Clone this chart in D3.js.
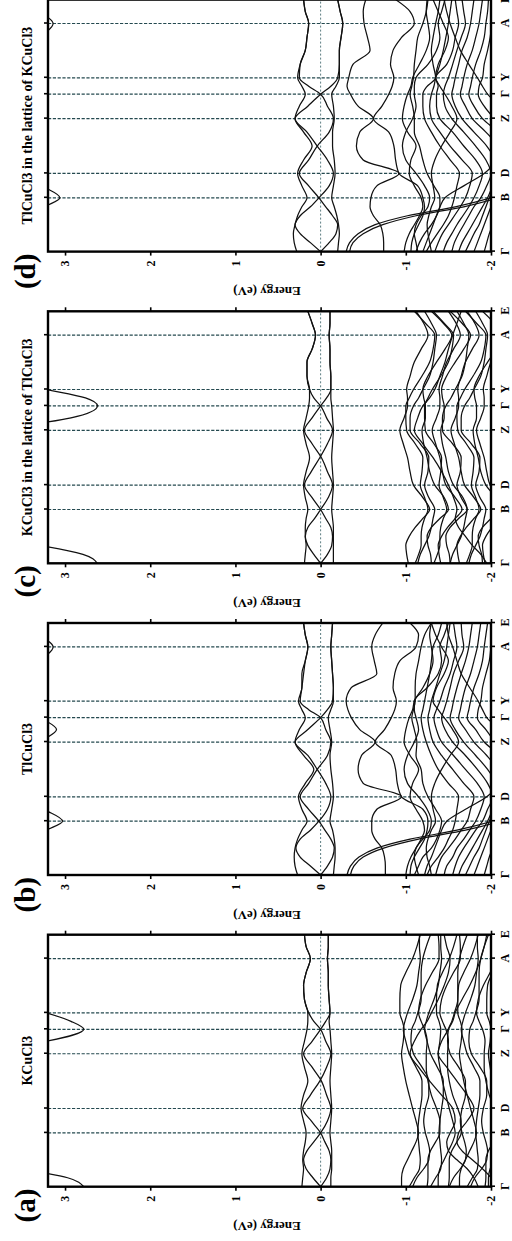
<!DOCTYPE html>
<html>
<head>
<meta charset="utf-8">
<script src="https://cdn.jsdelivr.net/npm/d3@7"></script>
<style>
  body { margin: 0; background: #fff; }
  svg { display: block; }
  text { font-family: "Liberation Serif", "Times New Roman", serif; font-weight: bold; }
</style>
</head>
<body>
<svg id="chart" width="512" height="1241"></svg>
<script>
// k-path sample positions (distance along the path) and high-symmetry points
const kGrid = [0, 9, 18, 27, 36, 45, 54, 66, 78.5, 92, 106, 120, 133.5, 146, 158, 166, 174.5, 188, 202, 215, 229, 241, 253];
const kPoints = [0, 54, 78.5, 133.5, 158, 174.5, 229, 253];
const kLabels = ["Γ", "B", "D", "Z", "Γ", "Y", "A", "E"];
const energyTicks = [3, 2, 1, 0, -1, -2];

const panelLetters = ["(a)", "(b)", "(c)", "(d)"];
const panelTitles = ["KCuCl3", "TlCuCl3", "KCuCl3 in the lattice of TlCuCl3", "TlCuCl3 in the lattice of KCuCl3"];

// ---- (a) KCuCl3 ----
const condA = [2.78,2.97,3.55,4.3,5,5,5,5,5,5,5,5,4.2,3.22,2.78,2.93,3.22,3.9,4.6,5,5,5,5];
const nearA = [
  [0.22,0.21,0.2,0.21,0.2,0.18,0.17,0.2,0.23,0.2,0.15,0.19,0.22,0.19,0.16,0.15,0.15,0.19,0.2,0.17,0.12,0.17,0.19],
  [0,0.09,0.17,0.2,0.16,0.08,0,-0.08,-0.12,-0.07,-0.01,0.1,0.2,0.1,0,-0.06,-0.11,-0.1,-0.09,-0.09,-0.08,-0.09,-0.09],
  [0,-0.07,-0.11,-0.12,-0.1,-0.05,0,0.11,0.21,0.12,0.01,-0.07,-0.12,-0.06,0,0.08,0.14,0.19,0.2,0.17,0.12,0.17,0.19],
  [-0.12,-0.12,-0.13,-0.13,-0.13,-0.12,-0.11,-0.12,-0.13,-0.12,-0.11,-0.12,-0.13,-0.12,-0.11,-0.1,-0.11,-0.1,-0.09,-0.09,-0.08,-0.09,-0.09]
];
const valenceA = [
  [-0.95,-0.95,-0.97,-1.02,-1.07,-1.12,-1.15,-1.12,-1.08,-1.04,-1,-0.97,-0.95,-0.97,-0.98,-0.96,-0.93,-0.93,-0.94,-1,-1.08,-1.13,-1.17],
  [-1.04,-1.1,-1.16,-1.17,-1.16,-1.15,-1.14,-1.15,-1.17,-1.19,-1.19,-1.12,-1.04,-1,-0.97,-0.99,-1.02,-1.08,-1.13,-1.15,-1.17,-1.16,-1.16],
  [-1.08,-1.13,-1.21,-1.27,-1.28,-1.26,-1.23,-1.21,-1.23,-1.27,-1.27,-1.19,-1.09,-1.06,-1.07,-1.11,-1.14,-1.18,-1.18,-1.18,-1.2,-1.24,-1.29],
  [-1.25,-1.26,-1.26,-1.26,-1.29,-1.35,-1.4,-1.4,-1.36,-1.3,-1.26,-1.24,-1.24,-1.25,-1.22,-1.18,-1.15,-1.17,-1.23,-1.31,-1.39,-1.39,-1.38],
  [-1.29,-1.35,-1.41,-1.42,-1.41,-1.4,-1.39,-1.4,-1.42,-1.44,-1.44,-1.37,-1.29,-1.25,-1.22,-1.24,-1.27,-1.33,-1.38,-1.4,-1.42,-1.41,-1.41],
  [-1.38,-1.38,-1.4,-1.45,-1.5,-1.55,-1.58,-1.55,-1.51,-1.47,-1.43,-1.4,-1.38,-1.4,-1.41,-1.39,-1.36,-1.36,-1.37,-1.43,-1.51,-1.56,-1.6],
  [-1.5,-1.51,-1.51,-1.51,-1.54,-1.6,-1.65,-1.65,-1.61,-1.55,-1.51,-1.49,-1.49,-1.5,-1.47,-1.43,-1.4,-1.42,-1.48,-1.56,-1.64,-1.64,-1.63],
  [-1.51,-1.56,-1.64,-1.7,-1.71,-1.69,-1.66,-1.64,-1.66,-1.7,-1.7,-1.62,-1.52,-1.49,-1.5,-1.54,-1.57,-1.61,-1.61,-1.61,-1.63,-1.67,-1.72],
  [-1.63,-1.63,-1.65,-1.7,-1.75,-1.8,-1.83,-1.8,-1.76,-1.72,-1.68,-1.65,-1.63,-1.65,-1.66,-1.64,-1.61,-1.61,-1.62,-1.68,-1.76,-1.81,-1.85],
  [-1.72,-1.78,-1.84,-1.85,-1.84,-1.83,-1.82,-1.83,-1.85,-1.87,-1.87,-1.8,-1.72,-1.68,-1.65,-1.67,-1.7,-1.76,-1.81,-1.83,-1.85,-1.84,-1.84],
  [-1.76,-1.81,-1.89,-1.95,-1.96,-1.94,-1.91,-1.89,-1.91,-1.95,-1.95,-1.87,-1.77,-1.74,-1.75,-1.79,-1.82,-1.86,-1.86,-1.86,-1.88,-1.92,-1.97],
  [-1.93,-1.94,-1.94,-1.94,-1.97,-2.03,-2.08,-2.08,-2.04,-1.98,-1.94,-1.92,-1.92,-1.93,-1.9,-1.86,-1.83,-1.85,-1.91,-1.99,-2.07,-2.07,-2.06],
  [-1.97,-1.97,-1.99,-2.04,-2.09,-2.14,-2.17,-2.14,-2.1,-2.06,-2.02,-1.99,-1.97,-1.99,-2,-1.98,-1.95,-1.95,-1.96,-2.02,-2.1,-2.15,-2.19],
  [-1.85,-1.8,-1.72,-1.6,-1.5,-1.48,-1.52,-1.58,-1.55,-1.42,-1.28,-1.15,-1.05,-1.1,-1.18,-1.25,-1.3,-1.38,-1.45,-1.5,-1.52,-1.48,-1.45],
  [-2.05,-2,-1.9,-1.78,-1.66,-1.6,-1.62,-1.72,-1.8,-1.72,-1.6,-1.48,-1.38,-1.42,-1.5,-1.55,-1.58,-1.66,-1.75,-1.82,-1.88,-1.92,-1.95]
];

// ---- (b) TlCuCl3 ----
const condB = [4,3.8,3.6,3.5,3.4,3.22,3.03,3.25,3.5,3.6,3.6,3.5,3.3,3.1,3.3,3.5,3.6,3.6,3.5,3.3,3.14,3.3,3.5];
const nearB = [
  [0.27,0.3,0.31,0.3,0.27,0.22,0.16,0.22,0.26,0.18,0.08,0.2,0.3,0.25,0.18,0.22,0.26,0.22,0.22,0.18,0.15,0.18,0.2],
  [0,0.12,0.24,0.29,0.24,0.12,0.02,-0.08,-0.12,-0.06,0.04,0.15,0.3,0.15,0,-0.08,-0.14,-0.15,-0.14,-0.13,-0.12,-0.13,-0.14],
  [0,-0.08,-0.14,-0.16,-0.12,-0.05,0.02,0.14,0.24,0.14,0.04,-0.08,-0.12,-0.06,0,0.14,0.24,0.22,0.2,0.18,0.15,0.18,0.2],
  [-0.15,-0.16,-0.17,-0.17,-0.16,-0.14,-0.11,-0.13,-0.15,-0.14,-0.12,-0.11,-0.13,-0.11,-0.09,-0.12,-0.15,-0.15,-0.14,-0.13,-0.12,-0.13,-0.14]
];
const valenceB = [
  [-0.31,-0.35,-0.45,-0.66,-1.05,-1.6,-2.02,-2.4,-2.4,-2.4,-2.4,-2.4,-2.4,-2.4,-2.4,-2.4,-2.4,-2.4,-2.4,-2.4,-2.4,-2.4,-2.4],
  [-0.35,-0.39,-0.5,-0.74,-1.15,-1.7,-2.1,-2.4,-2.4,-2.4,-2.4,-2.4,-2.4,-2.4,-2.4,-2.4,-2.4,-2.4,-2.4,-2.4,-2.4,-2.4,-2.4],
  [-0.76,-0.76,-0.75,-0.72,-0.64,-0.6,-0.6,-0.66,-0.95,-0.5,-0.44,-0.48,-0.64,-0.46,-0.36,-0.32,-0.3,-0.36,-0.66,-0.63,-0.6,-0.64,-0.73],
  [-1.05,-1.06,-1.1,-1.16,-1.22,-1.25,-1.26,-1.2,-0.95,-0.9,-0.88,-0.83,-0.64,-0.75,-0.83,-0.87,-0.89,-0.85,-0.87,-0.93,-1.12,-1.15,-1.05],
  [-1.1,-1.15,-1.2,-1.3,-1.36,-1.4,-1.42,-1.35,-1.26,-1.2,-1.18,-1.12,-1.13,-1.1,-1.07,-1.09,-1.11,-1.11,-1.12,-1.15,-1.18,-1.22,-1.3],
  [-1.0,-1.02,-1.06,-1.12,-1.18,-1.22,-1.2,-1.12,-1.05,-1.08,-1.15,-1.05,-0.98,-1,-1.04,-1.08,-1.1,-1.2,-1.28,-1.32,-1.3,-1.28,-1.3],
  [-1.15,-1.12,-1.1,-1.12,-1.2,-1.28,-1.3,-1.25,-1.15,-1.02,-0.98,-1.02,-1.1,-1.15,-1.12,-1.1,-1.1,-1.25,-1.38,-1.42,-1.4,-1.45,-1.5],
  [-1.25,-1.3,-1.38,-1.45,-1.5,-1.55,-1.58,-1.6,-1.62,-1.5,-1.38,-1.3,-1.24,-1.2,-1.18,-1.2,-1.22,-1.25,-1.28,-1.3,-1.32,-1.38,-1.42],
  [-1.35,-1.38,-1.42,-1.5,-1.58,-1.65,-1.72,-1.76,-1.8,-1.68,-1.55,-1.42,-1.32,-1.28,-1.26,-1.28,-1.3,-1.35,-1.4,-1.45,-1.48,-1.5,-1.52],
  [-1.45,-1.48,-1.55,-1.6,-1.68,-1.75,-1.82,-1.88,-1.92,-1.84,-1.7,-1.56,-1.42,-1.36,-1.33,-1.36,-1.4,-1.45,-1.52,-1.56,-1.6,-1.58,-1.56],
  [-1.55,-1.58,-1.62,-1.68,-1.75,-1.82,-1.9,-1.96,-2.02,-1.96,-1.84,-1.7,-1.55,-1.46,-1.42,-1.45,-1.48,-1.52,-1.56,-1.62,-1.68,-1.66,-1.65],
  [-1.62,-1.66,-1.72,-1.78,-1.84,-1.9,-1.96,-2.02,-2.1,-2.06,-1.96,-1.82,-1.68,-1.58,-1.52,-1.54,-1.56,-1.6,-1.65,-1.7,-1.74,-1.76,-1.78],
  [-1.7,-1.75,-1.8,-1.86,-1.9,-1.94,-1.98,-2.05,-2.15,-2.15,-2.08,-1.95,-1.8,-1.7,-1.62,-1.64,-1.66,-1.7,-1.76,-1.8,-1.84,-1.86,-1.88],
  [-1.8,-1.84,-1.88,-1.92,-1.96,-2,-2.05,-2.1,-2.2,-2.2,-2.2,-2.1,-1.92,-1.82,-1.72,-1.74,-1.76,-1.8,-1.86,-1.9,-1.92,-1.94,-1.96],
  [-1.92,-1.95,-1.98,-2.02,-2.06,-2.1,-2.15,-2.2,-2.2,-2.2,-2.2,-2.2,-2.05,-1.94,-1.84,-1.85,-1.88,-1.9,-1.94,-1.98,-2,-2.02,-2.04],
  [-1.22,-1.25,-1.3,-1.34,-1.38,-1.42,-1.48,-1.7,-1.95,-2.1,-2.2,-2.2,-2.2,-2.1,-1.95,-1.9,-1.85,-1.75,-1.65,-1.6,-1.55,-1.5,-1.48],
  [-1.3,-1.28,-1.25,-1.24,-1.26,-1.3,-1.35,-1.32,-1.3,-1.34,-1.42,-1.52,-1.62,-1.55,-1.45,-1.38,-1.32,-1.36,-1.45,-1.5,-1.42,-1.35,-1.3]
];

// ---- (c) KCuCl3 in the lattice of TlCuCl3 ----
const condC = [2.62,2.79,3.3,4.1,5,5,5,5,5,5,5,5,3.9,2.93,2.62,2.76,3.22,4,5,5,5,5,5];
const nearC = [
  [0.19,0.18,0.17,0.18,0.18,0.17,0.15,0.18,0.2,0.17,0.13,0.17,0.2,0.17,0.14,0.13,0.13,0.16,0.16,0.1,0.06,0.1,0.15],
  [0,0.08,0.15,0.18,0.15,0.07,0,-0.09,-0.14,-0.08,-0.01,0.1,0.19,0.1,0,-0.07,-0.12,-0.12,-0.11,-0.11,-0.1,-0.11,-0.11],
  [0,-0.08,-0.13,-0.14,-0.12,-0.06,0,0.1,0.19,0.11,0.01,-0.08,-0.14,-0.07,0,0.08,0.13,0.16,0.16,0.1,0.06,0.1,0.15],
  [-0.15,-0.15,-0.15,-0.15,-0.15,-0.14,-0.13,-0.14,-0.15,-0.14,-0.13,-0.14,-0.15,-0.14,-0.13,-0.12,-0.12,-0.12,-0.11,-0.11,-0.1,-0.11,-0.11]
];
const valenceC = [
  [-1.03,-1.01,-1,-1.04,-1.11,-1.2,-1.28,-1.2,-1.09,-1.05,-1.02,-0.97,-0.93,-0.98,-1.02,-1.02,-1.01,-1.05,-1.1,-1.18,-1.26,-1.21,-1.12],
  [-1.11,-1.15,-1.18,-1.18,-1.19,-1.22,-1.26,-1.22,-1.17,-1.19,-1.2,-1.11,-1.01,-1,-1,-1.04,-1.09,-1.19,-1.28,-1.32,-1.34,-1.23,-1.1],
  [-1.14,-1.17,-1.22,-1.27,-1.3,-1.32,-1.34,-1.27,-1.22,-1.26,-1.27,-1.17,-1.05,-1.05,-1.09,-1.15,-1.2,-1.28,-1.32,-1.34,-1.36,-1.3,-1.22],
  [-1.3,-1.29,-1.26,-1.25,-1.3,-1.4,-1.5,-1.45,-1.34,-1.28,-1.25,-1.21,-1.19,-1.23,-1.23,-1.21,-1.2,-1.26,-1.36,-1.46,-1.54,-1.44,-1.3],
  [-1.33,-1.37,-1.4,-1.4,-1.41,-1.44,-1.48,-1.44,-1.39,-1.41,-1.42,-1.33,-1.23,-1.22,-1.22,-1.26,-1.31,-1.41,-1.5,-1.54,-1.56,-1.45,-1.32],
  [-1.41,-1.39,-1.38,-1.42,-1.49,-1.58,-1.66,-1.58,-1.47,-1.43,-1.4,-1.35,-1.31,-1.36,-1.4,-1.4,-1.39,-1.43,-1.48,-1.56,-1.64,-1.59,-1.5],
  [-1.52,-1.51,-1.48,-1.47,-1.52,-1.62,-1.72,-1.67,-1.56,-1.5,-1.47,-1.43,-1.41,-1.45,-1.45,-1.43,-1.42,-1.48,-1.58,-1.68,-1.76,-1.66,-1.52],
  [-1.52,-1.55,-1.6,-1.65,-1.68,-1.7,-1.72,-1.65,-1.6,-1.64,-1.65,-1.55,-1.43,-1.43,-1.47,-1.53,-1.58,-1.66,-1.7,-1.72,-1.74,-1.68,-1.6],
  [-1.63,-1.61,-1.6,-1.64,-1.71,-1.8,-1.88,-1.8,-1.69,-1.65,-1.62,-1.57,-1.53,-1.58,-1.62,-1.62,-1.61,-1.65,-1.7,-1.78,-1.86,-1.81,-1.72],
  [-1.71,-1.75,-1.78,-1.78,-1.79,-1.82,-1.86,-1.82,-1.77,-1.79,-1.8,-1.71,-1.61,-1.6,-1.6,-1.64,-1.69,-1.79,-1.88,-1.92,-1.94,-1.83,-1.7],
  [-1.74,-1.77,-1.82,-1.87,-1.9,-1.92,-1.94,-1.87,-1.82,-1.86,-1.87,-1.77,-1.65,-1.65,-1.69,-1.75,-1.8,-1.88,-1.92,-1.94,-1.96,-1.9,-1.82],
  [-1.9,-1.89,-1.86,-1.85,-1.9,-2,-2.1,-2.05,-1.94,-1.88,-1.85,-1.81,-1.79,-1.83,-1.83,-1.81,-1.8,-1.86,-1.96,-2.06,-2.14,-2.04,-1.9],
  [-1.93,-1.91,-1.9,-1.94,-2.01,-2.1,-2.18,-2.1,-1.99,-1.95,-1.92,-1.87,-1.83,-1.88,-1.92,-1.92,-1.91,-1.95,-2,-2.08,-2.16,-2.11,-2.02],
  [-1.95,-1.88,-1.78,-1.7,-1.62,-1.58,-1.6,-1.56,-1.5,-1.42,-1.32,-1.2,-1.1,-1.14,-1.2,-1.28,-1.34,-1.4,-1.46,-1.5,-1.55,-1.6,-1.65]
];

// ---- (d) TlCuCl3 in the lattice of KCuCl3 ----
const condD = [4,3.8,3.6,3.5,3.4,3.24,3.06,3.27,3.5,3.6,3.6,3.6,3.6,3.6,3.6,3.6,3.6,3.6,3.5,3.3,3.14,3.3,3.5];
const nearD = [
  [0.28,0.31,0.32,0.3,0.27,0.22,0.16,0.22,0.27,0.2,0.1,0.2,0.3,0.25,0.18,0.22,0.27,0.24,0.18,0.16,0.14,0.18,0.2],
  [0,0.12,0.24,0.3,0.24,0.12,0.02,-0.1,-0.15,-0.08,0.04,0.16,0.3,0.15,0,-0.12,-0.2,-0.22,-0.22,-0.24,-0.26,-0.23,-0.2],
  [0,-0.1,-0.18,-0.2,-0.14,-0.06,0.02,0.14,0.25,0.14,0.04,-0.1,-0.15,-0.08,0,0.14,0.25,0.24,0.18,0.16,0.14,0.18,0.2],
  [-0.2,-0.21,-0.22,-0.21,-0.19,-0.16,-0.13,-0.15,-0.17,-0.16,-0.14,-0.14,-0.16,-0.15,-0.13,-0.18,-0.22,-0.22,-0.22,-0.24,-0.26,-0.23,-0.2]
];
const valenceD = [
  [-0.3,-0.34,-0.44,-0.64,-1.02,-1.58,-2.0,-2.4,-2.4,-2.4,-2.4,-2.4,-2.4,-2.4,-2.4,-2.4,-2.4,-2.4,-2.4,-2.4,-2.4,-2.4,-2.4],
  [-0.34,-0.38,-0.5,-0.73,-1.12,-1.68,-2.08,-2.4,-2.4,-2.4,-2.4,-2.4,-2.4,-2.4,-2.4,-2.4,-2.4,-2.4,-2.4,-2.4,-2.4,-2.4,-2.4],
  [-0.74,-0.74,-0.73,-0.7,-0.62,-0.58,-0.59,-0.66,-0.92,-0.5,-0.42,-0.46,-0.62,-0.44,-0.35,-0.31,-0.33,-0.38,-0.58,-0.55,-0.51,-0.5,-0.53],
  [-1.06,-1.07,-1.1,-1.15,-1.2,-1.22,-1.2,-1.14,-0.92,-0.88,-0.86,-0.8,-0.62,-0.72,-0.8,-0.84,-0.86,-0.82,-0.85,-0.95,-1.1,-1.05,-0.88],
  [-1.12,-1.16,-1.22,-1.3,-1.36,-1.4,-1.4,-1.33,-1.25,-1.2,-1.16,-1.1,-1.1,-1.08,-1.05,-1.07,-1.09,-1.1,-1.12,-1.14,-1.2,-1.24,-1.26],
  [-0.98,-1,-1.04,-1.1,-1.16,-1.2,-1.18,-1.1,-1.04,-1.06,-1.12,-1.02,-0.96,-0.98,-1.02,-1.06,-1.08,-1.16,-1.24,-1.28,-1.26,-1.24,-1.25],
  [-1.14,-1.12,-1.1,-1.12,-1.18,-1.26,-1.28,-1.22,-1.12,-1,-0.96,-1,-1.08,-1.12,-1.1,-1.1,-1.12,-1.26,-1.36,-1.4,-1.38,-1.42,-1.46],
  [-1.24,-1.3,-1.37,-1.44,-1.5,-1.54,-1.57,-1.6,-1.63,-1.52,-1.4,-1.3,-1.22,-1.2,-1.2,-1.25,-1.35,-1.32,-1.3,-1.32,-1.35,-1.38,-1.4],
  [-1.34,-1.38,-1.43,-1.5,-1.57,-1.64,-1.7,-1.75,-1.78,-1.66,-1.52,-1.4,-1.3,-1.28,-1.3,-1.33,-1.35,-1.4,-1.44,-1.47,-1.5,-1.52,-1.54],
  [-1.44,-1.48,-1.54,-1.6,-1.67,-1.74,-1.8,-1.86,-1.9,-1.82,-1.68,-1.55,-1.4,-1.36,-1.36,-1.38,-1.35,-1.48,-1.55,-1.58,-1.62,-1.6,-1.58],
  [-1.54,-1.57,-1.62,-1.68,-1.74,-1.8,-1.88,-1.95,-2,-1.94,-1.82,-1.68,-1.54,-1.46,-1.44,-1.46,-1.5,-1.55,-1.6,-1.65,-1.7,-1.68,-1.66],
  [-1.62,-1.66,-1.72,-1.78,-1.84,-1.9,-1.96,-2.02,-2.1,-2.05,-1.95,-1.8,-1.66,-1.58,-1.54,-1.56,-1.58,-1.62,-1.66,-1.72,-1.76,-1.78,-1.8],
  [-1.7,-1.75,-1.8,-1.86,-1.9,-1.94,-1.98,-2.05,-2.15,-2.15,-2.08,-1.94,-1.78,-1.7,-1.64,-1.66,-1.68,-1.72,-1.78,-1.82,-1.86,-1.88,-1.9],
  [-1.8,-1.84,-1.88,-1.92,-1.96,-2,-2.05,-2.1,-2.2,-2.2,-2.2,-2.08,-1.9,-1.8,-1.74,-1.76,-1.78,-1.82,-1.88,-1.92,-1.94,-1.96,-1.97],
  [-1.92,-1.95,-1.98,-2.02,-2.06,-2.1,-2.15,-2.2,-2.2,-2.2,-2.2,-2.2,-2.04,-1.92,-1.85,-1.86,-1.9,-1.92,-1.96,-1.99,-2.01,-2.03,-2.04],
  [-1.2,-1.24,-1.28,-1.32,-1.36,-1.4,-1.46,-1.68,-1.92,-2.08,-2.2,-2.2,-2.2,-2.1,-1.96,-1.9,-1.84,-1.74,-1.64,-1.58,-1.52,-1.48,-1.45],
  [-1.3,-1.28,-1.26,-1.25,-1.27,-1.3,-1.34,-1.32,-1.3,-1.34,-1.42,-1.52,-1.6,-1.54,-1.46,-1.4,-1.35,-1.38,-1.46,-1.5,-1.44,-1.38,-1.32]
];

const panels = [
  {cond: condA, near: nearA, valence: valenceA},
  {cond: condB, near: nearB, valence: valenceB},
  {cond: condC, near: nearC, valence: valenceC},
  {cond: condD, near: nearD, valence: valenceD}
];

const FIG_W = 1241;          // length of the unrotated figure (becomes page height)
const PANEL_X0 = 54.3;
const PANEL_STEP = 311.7;
const PANEL_W = 252;
const DASH_COLOR = "#24494f";

const svg = d3.select("#chart");
// the whole figure is drawn upright and then turned a quarter turn
const root = svg.append("g").attr("transform", `translate(0,${FIG_W}) rotate(-90)`);

const y = d3.scaleLinear().domain([3.2, -2]).range([48, 491]);

const line = (x) => d3.line()
  .x((d, j) => x(kGrid[j]))
  .y(d => y(d))
  .curve(d3.curveMonotoneX);

panels.forEach((p, i) => {
  const x0 = PANEL_X0 + i * PANEL_STEP;
  const x = d3.scaleLinear().domain([0, 253]).range([x0, x0 + PANEL_W]);
  const g = root.append("g");

  const clipId = `clip${i}`;
  g.append("clipPath").attr("id", clipId)
    .append("rect")
    .attr("x", x0).attr("y", y(3.2))
    .attr("width", PANEL_W).attr("height", y(-2) - y(3.2));

  // dashed guide lines
  g.selectAll("line.kline")
    .data(kPoints.slice(1, -1))
    .join("line")
    .attr("class", "kline")
    .attr("x1", d => x(d)).attr("x2", d => x(d))
    .attr("y1", y(3.2)).attr("y2", y(-2))
    .attr("stroke", DASH_COLOR).attr("stroke-width", 1.2)
    .attr("stroke-dasharray", "3.2,1.6");

  g.append("line")
    .attr("x1", x0).attr("x2", x0 + PANEL_W)
    .attr("y1", y(0)).attr("y2", y(0))
    .attr("stroke", "#5c7d82").attr("stroke-width", 1)
    .attr("stroke-dasharray", "2,2");

  // bands
  const bands = [p.cond, ...p.near, ...p.valence];
  g.append("g")
    .attr("clip-path", `url(#${clipId})`)
    .selectAll("path")
    .data(bands)
    .join("path")
    .attr("d", line(x))
    .attr("fill", "none")
    .attr("stroke", "#111")
    .attr("stroke-width", 1.25);

  // frame
  g.append("rect")
    .attr("x", x0).attr("y", y(3.2))
    .attr("width", PANEL_W).attr("height", y(-2) - y(3.2))
    .attr("fill", "none").attr("stroke", "#000").attr("stroke-width", 2.4);

  // energy axis (left) with labels, mirrored ticks on the right
  const axL = g.append("g").attr("transform", `translate(${x0},0)`)
    .call(d3.axisLeft(y).tickValues(energyTicks).tickSize(4).tickPadding(5).tickFormat(d => String(d)));
  const axR = g.append("g").attr("transform", `translate(${x0 + PANEL_W},0)`)
    .call(d3.axisRight(y).tickValues(energyTicks).tickSize(4).tickFormat(""));

  // k axis (bottom) with labels, mirrored ticks on top
  const axB = g.append("g").attr("transform", `translate(0,${y(-2)})`)
    .call(d3.axisBottom(x).tickValues(kPoints).tickSize(4).tickPadding(5).tickFormat((d, j) => kLabels[j]));
  const axT = g.append("g").attr("transform", `translate(0,${y(3.2)})`)
    .call(d3.axisTop(x).tickValues(kPoints.slice(1, -1)).tickSize(4).tickFormat(""));

  [axL, axR, axB, axT].forEach(ax => {
    ax.select(".domain").remove();
    ax.selectAll(".tick line").attr("stroke", "#000").attr("stroke-width", 1.6);
    ax.selectAll("text")
      .attr("fill", "#000")
      .style("font-family", "'Liberation Serif', 'Times New Roman', serif")
      .style("font-weight", "bold")
      .style("font-size", "12px");
  });

  g.append("text")
    .attr("transform", `translate(${x0 - 35.5},267) rotate(-90)`)
    .attr("text-anchor", "middle")
    .style("font-size", "13px")
    .text("Energy (eV)");

  g.append("text")
    .attr("x", x0 + PANEL_W / 2).attr("y", 32)
    .attr("text-anchor", "middle")
    .style("font-size", "14px")
    .text(panelTitles[i]);

  g.append("text")
    .attr("x", x0 - 2).attr("y", 35)
    .attr("text-anchor", "end")
    .style("font-size", "29px")
    .text(panelLetters[i]);
});
</script>
</body>
</html>
